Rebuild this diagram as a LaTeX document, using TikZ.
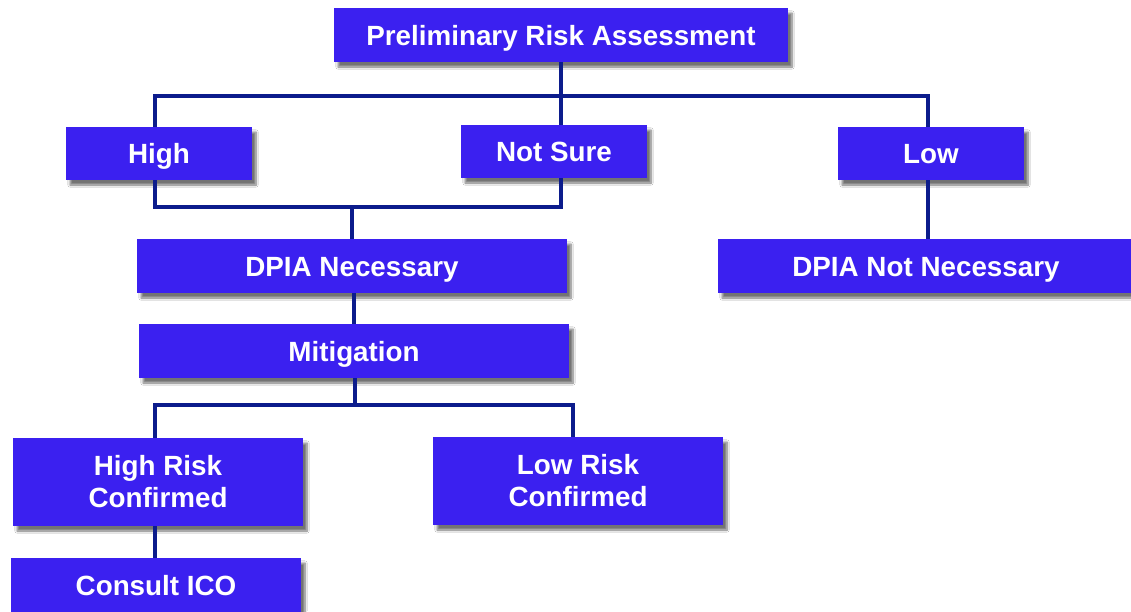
\documentclass[tikz,border=0pt]{standalone}
\usepackage{fontspec}
\setmainfont{Liberation Sans}
\usetikzlibrary{calc,shadows.blur}
\definecolor{boxblue}{RGB}{59,32,240}
\definecolor{linenavy}{RGB}{12,28,140}
\begin{document}
\begin{tikzpicture}[x=1pt,y=-1pt,
  box/.style={rectangle, fill=boxblue, draw=none, text=white, inner sep=0pt, align=center,
    font=\bfseries\fontsize{27.8}{32}\selectfont,
    blur shadow={shadow xshift=4pt, shadow yshift=-5pt, shadow blur steps=8, shadow opacity=55}},
  onebox/.style={box, text height=20pt, text depth=0pt},
  conn/.style={draw=linenavy, line width=3.5pt, line join=miter}]
\useasboundingbox (0,0) rectangle (1131,611);
\fill[white] (0,0) rectangle (1131,611);

\node[onebox, minimum width=454, minimum height=54] (pra) at (561,35) {Preliminary Risk Assessment};
\node[onebox, minimum width=186, minimum height=53] (high) at (159,153.5) {High};
\node[onebox, minimum width=186, minimum height=53] (notsure) at (554,151.5) {Not Sure};
\node[onebox, minimum width=186, minimum height=53] (low) at (931,153.5) {Low};
\node[onebox, minimum width=430, minimum height=54] (dn) at (352,266) {DPIA Necessary};
\node[onebox, minimum width=416, minimum height=54] (dnn) at (926,266) {DPIA Not Necessary};
\node[onebox, minimum width=430, minimum height=54] (mit) at (354,351) {Mitigation};
\node[box, minimum width=290, minimum height=88] (hrc) at (158,482) {High Risk\\Confirmed};
\node[box, minimum width=290, minimum height=88] (lrc) at (578,481) {Low Risk\\Confirmed};
\node[onebox, minimum width=290, minimum height=54] (ico) at (156,585) {Consult ICO};

\coordinate (j1) at (560,96);
\coordinate (j2) at (352,207);
\coordinate (j3) at (355,405);
\coordinate (hx) at ($(high.north)+(-4,0)$);
\coordinate (lx) at ($(low.north)+(-3,0)$);
\coordinate (hsx) at ($(high.south)+(-4,0)$);
\coordinate (lsx) at ($(low.south)+(-3,0)$);
\coordinate (hrx) at ($(hrc.north)+(-3,0)$);
\coordinate (lrx) at ($(lrc.north)+(-5,0)$);
\coordinate (hrsx) at ($(hrc.south)+(-3,0)$);

\path[conn] (pra.south) -- (pra.south |- notsure.north);
\path[conn] (hx) |- (j1) -| (lx);
\path[conn] (hsx) |- (j2) -| (pra.south |- notsure.south);
\path[conn] (j2) -- (dn.north);
\path[conn] (lsx) -- (lsx |- dnn.north);
\path[conn] (mit.north |- dn.south) -- (mit.north);
\path[conn] (mit.south -| j3) |- (j3);
\path[conn] (hrx) |- (j3) -| (lrx);
\path[conn] (hrsx) -- (hrsx |- ico.north);
\end{tikzpicture}
\end{document}
